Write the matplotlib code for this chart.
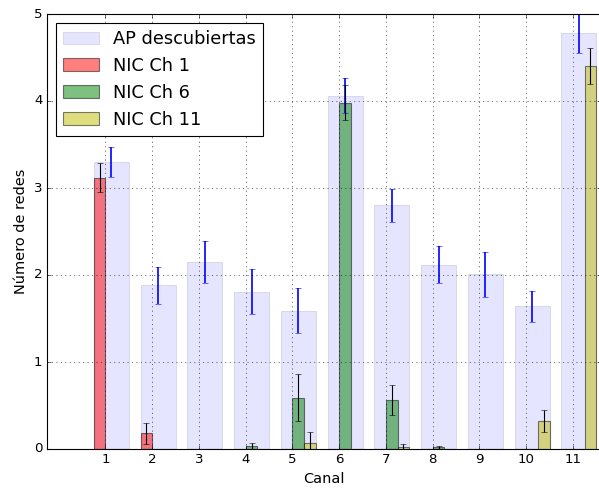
import numpy as np
import matplotlib
matplotlib.use("Agg")
import matplotlib.pyplot as plt

plt.style.use("classic")

# Datos por canal
canales = [1, 2, 3, 4, 5, 6, 7, 8, 9, 10, 11]
ap = [3.30, 1.88, 2.15, 1.81, 1.59, 4.06, 2.80, 2.12, 2.01, 1.64, 4.78]
ap_err = [0.17, 0.21, 0.24, 0.26, 0.26, 0.20, 0.19, 0.21, 0.26, 0.18, 0.23]
nic1 = [3.12, 0.18, 0, 0, 0, 0, 0, 0, 0, 0, 0]
nic1_err = [0.165, 0.12, 0, 0, 0, 0, 0, 0, 0, 0, 0]
nic6 = [0, 0, 0, 0.03, 0.59, 3.98, 0.56, 0.02, 0, 0, 0]
nic6_err = [0, 0, 0, 0.04, 0.27, 0.20, 0.17, 0.02, 0, 0, 0]
nic11 = [0, 0, 0, 0, 0.065, 0, 0.02, 0, 0, 0.32, 4.40]
nic11_err = [0, 0, 0, 0, 0.13, 0, 0.04, 0, 0, 0.13, 0.21]

x = np.array(canales, dtype=float)
w = 0.25

fig = plt.figure(figsize=(599 / 80, 491 / 80), dpi=80, facecolor="white")
ax = fig.add_axes([47 / 599, 42 / 491, 554 / 599, 435 / 491])

ax.bar(x - w, ap, 3 * w, align="edge", color="b", alpha=0.1, label="AP descubiertas")
ax.bar(x - w, nic1, w, align="edge", color="r", alpha=0.5, label="NIC Ch 1")
ax.bar(x, nic6, w, align="edge", color="g", alpha=0.5, label="NIC Ch 6")
ax.bar(x + w, nic11, w, align="edge", color="y", alpha=0.5, label="NIC Ch 11")

ax.errorbar(x + w / 2, ap, yerr=ap_err, fmt="none", ecolor="b", elinewidth=1.5, capsize=3)
ax.errorbar(x - w / 2, nic1, yerr=nic1_err, fmt="none", ecolor="k", capsize=3)
ax.errorbar(x + w / 2, nic6, yerr=nic6_err, fmt="none", ecolor="k", capsize=3)
ax.errorbar(x + 3 * w / 2, nic11, yerr=nic11_err, fmt="none", ecolor="k", capsize=3)

ax.set_xlim(-0.25, 11.6)
ax.set_ylim(0, 5)
ax.set_xticks(canales)
ax.grid(True)
ax.set_xlabel("Canal", fontsize=13)
ax.set_ylabel("Número de redes", fontsize=13)
ax.legend(loc="upper left", fontsize=16)

plt.savefig("out.png", dpi=80, facecolor="white")
